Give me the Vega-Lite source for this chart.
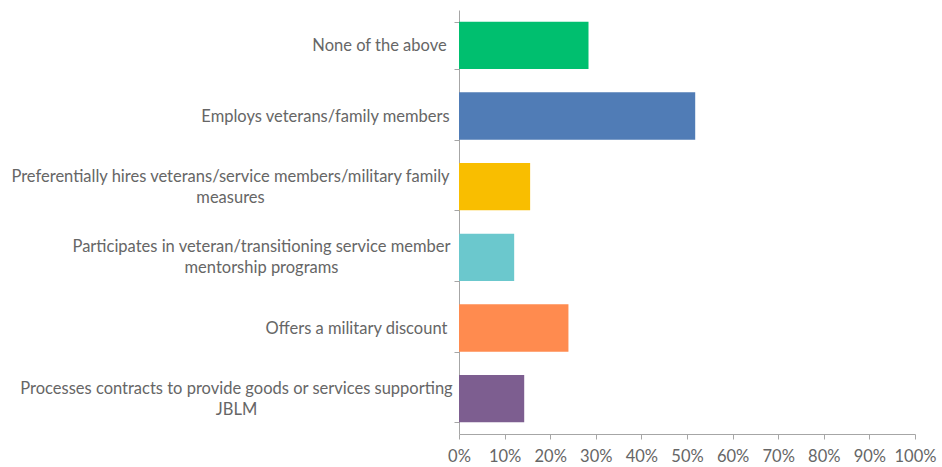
{
  "$schema": "https://vega.github.io/schema/vega-lite/v6.json",
  "width": 456,
  "height": 424,
  "autosize": {"type": "none"},
  "padding": {"left": 459, "top": 10, "right": 27, "bottom": 33},
  "background": "white",
  "config": {"view": {"stroke": null}, "font": "Lato"},
  "data": {
    "values": [
      {"option": "None of the above", "share": 0.284},
      {"option": "Employs veterans/family members", "share": 0.518},
      {"option": "Preferentially hires veterans/service members/military family measures", "share": 0.156},
      {"option": "Participates in veteran/transitioning service member mentorship programs", "share": 0.121},
      {"option": "Offers a military discount", "share": 0.240},
      {"option": "Processes contracts to provide goods or services supporting JBLM", "share": 0.143}
    ]
  },
  "mark": {"type": "bar"},
  "encoding": {
    "y": {
      "field": "option",
      "type": "nominal",
      "sort": null,
      "scale": {"paddingInner": 0.33, "paddingOuter": 0.165},
      "axis": {
        "title": null,
        "domainColor": "#a6a6a6",
        "tickColor": "#a6a6a6",
        "tickSize": 5,
        "tickBand": "extent",
        "labelFont": "Lato",
        "labelFontSize": 16.5,
        "labelColor": "#666666",
        "labelAlign": "center",
        "labelBaseline": "middle",
        "labelLineHeight": 21,
        "labelLimit": 0,
        "labelExpr": "datum.label == 'Preferentially hires veterans/service members/military family measures' ? ['Preferentially hires veterans/service members/military family', 'measures'] : datum.label == 'Participates in veteran/transitioning service member mentorship programs' ? ['Participates in veteran/transitioning service member', 'mentorship programs'] : datum.label == 'Processes contracts to provide goods or services supporting JBLM' ? ['Processes contracts to provide goods or services supporting', 'JBLM'] : datum.label",
        "labelOffset": {
          "condition": [
            {"test": "datum.value == 'Preferentially hires veterans/service members/military family measures'", "value": -10.5},
            {"test": "datum.value == 'Participates in veteran/transitioning service member mentorship programs'", "value": -10.5},
            {"test": "datum.value == 'Processes contracts to provide goods or services supporting JBLM'", "value": -10.5}
          ],
          "value": 0
        },
        "labelPadding": {
          "condition": [
            {"test": "datum.value == 'None of the above'", "value": 75},
            {"test": "datum.value == 'Employs veterans/family members'", "value": 129},
            {"test": "datum.value == 'Preferentially hires veterans/service members/military family measures'", "value": 224},
            {"test": "datum.value == 'Participates in veteran/transitioning service member mentorship programs'", "value": 193},
            {"test": "datum.value == 'Offers a military discount'", "value": 98}
          ],
          "value": 218
        }
      }
    },
    "x": {
      "field": "share",
      "type": "quantitative",
      "scale": {"domain": [0, 1], "nice": false},
      "axis": {
        "title": null,
        "format": ".0%",
        "values": [0, 0.1, 0.2, 0.3, 0.4, 0.5, 0.6, 0.7, 0.8, 0.9, 1],
        "grid": false,
        "domainColor": "#a6a6a6",
        "tickColor": "#a6a6a6",
        "tickSize": 5,
        "labelFont": "Lato",
        "labelFontSize": 16.5,
        "labelColor": "#666666",
        "labelPadding": 9,
        "labelFlush": false,
        "labelOverlap": false
      }
    },
    "color": {
      "field": "option",
      "type": "nominal",
      "legend": null,
      "scale": {
        "domain": [
          "None of the above",
          "Employs veterans/family members",
          "Preferentially hires veterans/service members/military family measures",
          "Participates in veteran/transitioning service member mentorship programs",
          "Offers a military discount",
          "Processes contracts to provide goods or services supporting JBLM"
        ],
        "range": ["#00BF6F", "#507CB6", "#F9BE00", "#6BC8CD", "#FF8B4F", "#7D5E90"]
      }
    }
  }
}
